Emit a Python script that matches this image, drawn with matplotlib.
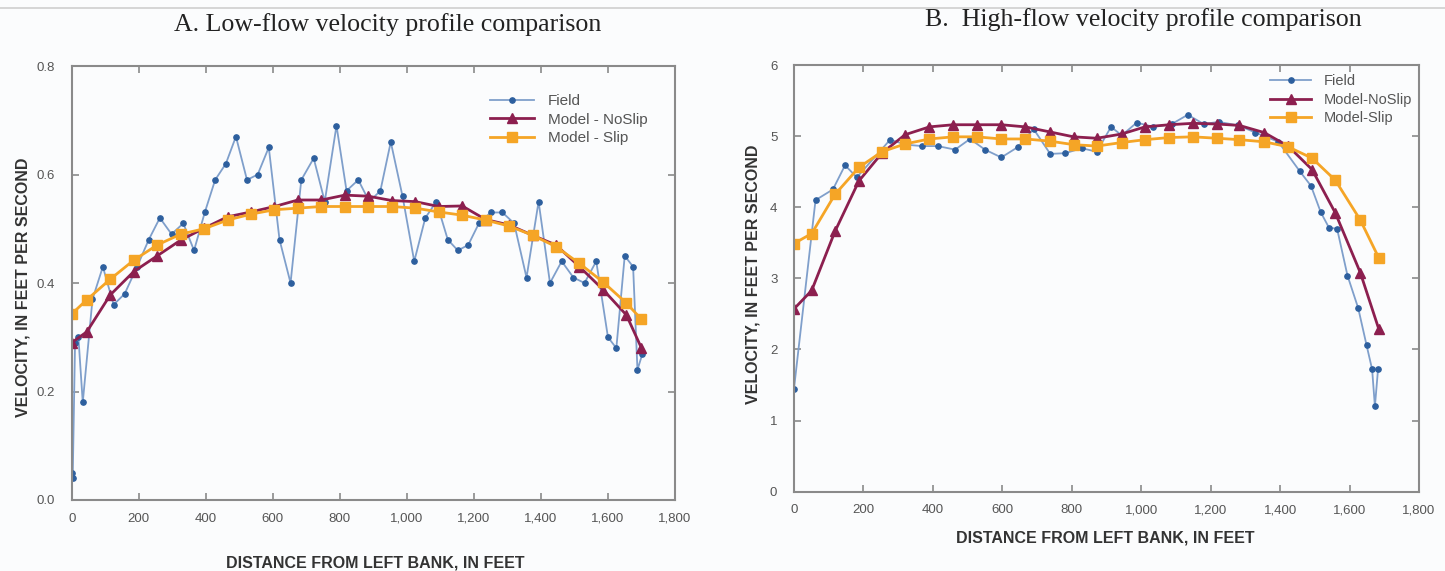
import matplotlib
matplotlib.use("Agg")
import matplotlib.pyplot as plt
from matplotlib.lines import Line2D
from matplotlib.ticker import FuncFormatter

# ---- A. low-flow data (distance ft, velocity ft/s) ----
low_field_x = [0, 3, 10, 20, 33, 62, 93, 125, 158, 195, 230, 263, 298, 333, 365,
               397, 428, 460, 490, 523, 555, 588, 620, 653, 685, 722, 755, 790,
               820, 855, 888, 921, 952, 987, 1022, 1055, 1088, 1122, 1152, 1183,
               1215, 1250, 1285, 1320, 1357, 1393, 1427, 1462, 1497, 1530, 1565,
               1600, 1625, 1650, 1675, 1688, 1703]
low_field_y = [0.05, 0.04, 0.29, 0.30, 0.18, 0.37, 0.43, 0.36, 0.38, 0.43, 0.48,
               0.52, 0.49, 0.51, 0.46, 0.53, 0.59, 0.62, 0.67, 0.59, 0.60, 0.65,
               0.48, 0.40, 0.59, 0.63, 0.55, 0.69, 0.57, 0.59, 0.55, 0.57, 0.66,
               0.56, 0.44, 0.52, 0.55, 0.48, 0.46, 0.47, 0.51, 0.53, 0.53, 0.51,
               0.41, 0.55, 0.40, 0.44, 0.41, 0.40, 0.44, 0.30, 0.28, 0.45, 0.43,
               0.24, 0.27]
low_model_x = [0, 45, 115, 185, 255, 325, 395, 465, 535, 605, 675, 745, 815, 885,
               955, 1025, 1095, 1165, 1235, 1305, 1375, 1445, 1515, 1585, 1655, 1700]
low_noslip_y = [0.290, 0.310, 0.378, 0.421, 0.450, 0.479, 0.501, 0.522, 0.531,
                0.541, 0.553, 0.553, 0.562, 0.560, 0.552, 0.550, 0.541, 0.542,
                0.517, 0.507, 0.488, 0.470, 0.430, 0.388, 0.341, 0.280]
low_slip_y = [0.343, 0.369, 0.407, 0.442, 0.470, 0.490, 0.500, 0.516, 0.527,
              0.535, 0.538, 0.541, 0.541, 0.541, 0.541, 0.538, 0.531, 0.525,
              0.516, 0.505, 0.488, 0.467, 0.436, 0.402, 0.363, 0.333]

# ---- B. high-flow data ----
high_field_x = [0, 62, 112, 147, 181, 277, 322, 368, 414, 464, 507, 550, 597, 646,
                690, 738, 781, 829, 872, 913, 944, 987, 1035, 1088, 1134, 1180,
                1223, 1280, 1329, 1395, 1456, 1489, 1517, 1541, 1564, 1594, 1625,
                1649, 1665, 1673, 1682]
high_field_y = [1.45, 4.10, 4.25, 4.59, 4.42, 4.95, 4.88, 4.86, 4.86, 4.81, 4.96,
                4.81, 4.70, 4.85, 5.10, 4.75, 4.76, 4.83, 4.78, 5.13, 5.01, 5.19,
                5.13, 5.17, 5.30, 5.17, 5.20, 5.15, 5.05, 4.92, 4.51, 4.30, 3.93,
                3.71, 3.70, 3.04, 2.58, 2.06, 1.72, 1.20, 1.72]
high_model_x = [0, 51, 118, 187, 253, 320, 390, 459, 526, 597, 666, 736, 805, 872,
                944, 1011, 1081, 1149, 1218, 1283, 1354, 1423, 1492, 1559, 1631, 1684]
high_noslip_y = [2.57, 2.83, 3.66, 4.37, 4.76, 5.02, 5.13, 5.16, 5.16, 5.16, 5.13,
                 5.06, 4.99, 4.97, 5.03, 5.13, 5.16, 5.18, 5.17, 5.15, 5.05, 4.86,
                 4.53, 3.92, 3.08, 2.29]
high_slip_y = [3.49, 3.63, 4.18, 4.56, 4.78, 4.89, 4.96, 4.99, 4.99, 4.96, 4.96,
               4.93, 4.88, 4.86, 4.91, 4.95, 4.98, 4.99, 4.97, 4.95, 4.92, 4.85,
               4.69, 4.38, 3.82, 3.29]

x_ticks = list(range(0, 1801, 200))

FIELD_LINE = "#7f9fcb"
FIELD_MARK = "#2d5f9e"
NOSLIP = "#8c1f4f"
SLIP = "#f5a526"
SPINE = "#8a8a8a"
TXT = "#333333"

plt.rcParams["font.family"] = ["Liberation Sans", "DejaVu Sans"]

fig = plt.figure(figsize=(14.45, 5.71), dpi=100, facecolor="#fbfcfd")
W, H = 1445, 571

# thin separator line at the very top
fig.add_artist(Line2D([0, 1], [1 - 8 / H] * 2, transform=fig.transFigure,
                      color="#cfcfcf", lw=1.2))


def comma_fmt(v, pos):
    return f"{int(v):,}"


def style_axes(ax, ylim, yticks, yfmt):
    ax.set_facecolor("#fbfcfd")
    ax.set_xlim(0, 1800)
    ax.set_ylim(*ylim)
    ax.set_xticks(x_ticks)
    ax.set_yticks(yticks)
    ax.xaxis.set_major_formatter(FuncFormatter(comma_fmt))
    ax.yaxis.set_major_formatter(FuncFormatter(yfmt))
    ax.tick_params(direction="in", length=5, width=1.2, color=SPINE,
                   top=True, right=True, labelsize=9.5, labelcolor="#555555")
    ax.tick_params(axis="x", pad=9)
    ax.tick_params(axis="y", pad=12)
    for s in ax.spines.values():
        s.set_color(SPINE)
        s.set_linewidth(1.5)


def draw(ax, fx, fy, mx, ny, sy, labels):
    ax.plot(fx, fy, color=FIELD_LINE, lw=1.3, marker="o", ms=3.8,
            mfc=FIELD_MARK, mec=FIELD_MARK, label=labels[0])
    ax.plot(mx, ny, color=NOSLIP, lw=2.0, marker="^", ms=7,
            mfc=NOSLIP, mec=NOSLIP, label=labels[1])
    ax.plot(mx, sy, color=SLIP, lw=2.0, marker="s", ms=6.5,
            mfc=SLIP, mec=SLIP, label=labels[2])


# ---- panel A ----
axA = fig.add_axes([71.7 / W, 1 - 500 / H, 603.3 / W, 434 / H])
draw(axA, low_field_x, low_field_y, low_model_x, low_noslip_y, low_slip_y,
     ["Field", "Model - NoSlip", "Model - Slip"])
style_axes(axA, (0, 0.8), [0, 0.2, 0.4, 0.6, 0.8], lambda v, p: f"{v:.1f}")
axA.legend(loc="upper left", bbox_to_anchor=(0.693, 0.935), frameon=False,
           fontsize=11, handlelength=2.9, handletextpad=0.9, labelspacing=0.3,
           borderpad=0, borderaxespad=0, labelcolor="#555555")
axA.set_xlabel("DISTANCE FROM LEFT BANK, IN FEET", fontsize=11.5,
               fontweight="bold", color=TXT)
axA.xaxis.set_label_coords(0.503, -0.127)
axA.set_ylabel("VELOCITY, IN FEET PER SECOND", fontsize=11.5,
               fontweight="bold", color=TXT)
axA.yaxis.set_label_coords(-0.068, 0.49)

# ---- panel B ----
axB = fig.add_axes([794 / W, 1 - 491.7 / H, 625 / W, 426.7 / H])
draw(axB, high_field_x, high_field_y, high_model_x, high_noslip_y, high_slip_y,
     ["Field", "Model-NoSlip", "Model-Slip"])
style_axes(axB, (0, 6), [0, 1, 2, 3, 4, 5, 6], lambda v, p: f"{int(v)}")
axB.legend(loc="upper left", bbox_to_anchor=(0.762, 0.978), frameon=False,
           fontsize=10.5, handlelength=2.8, handletextpad=0.9, labelspacing=0.3,
           borderpad=0, borderaxespad=0, labelcolor="#555555")
axB.set_xlabel("DISTANCE FROM LEFT BANK, IN FEET", fontsize=11.5,
               fontweight="bold", color=TXT)
axB.xaxis.set_label_coords(0.498, -0.092)
axB.set_ylabel("VELOCITY, IN FEET PER SECOND", fontsize=11.5,
               fontweight="bold", color=TXT)
axB.yaxis.set_label_coords(-0.054, 0.51)

# ---- titles ----
fig.text(388 / W, 1 - 25 / H, "A. Low-flow velocity profile comparison",
         family=["Liberation Serif", "DejaVu Serif"], fontsize=18.6,
         color="#222222", ha="center", va="center")
fig.text(1143 / W, 1 - 20 / H, "B.  High-flow velocity profile comparison",
         family=["Liberation Serif", "DejaVu Serif"], fontsize=18.6,
         color="#222222", ha="center", va="center")

fig.savefig("out.png", dpi=100, facecolor=fig.get_facecolor())
